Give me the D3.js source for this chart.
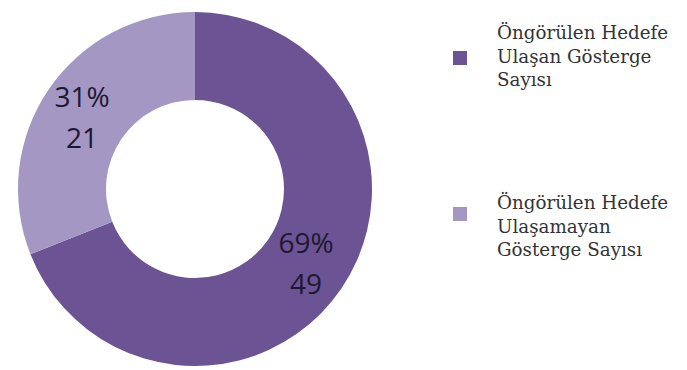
<!DOCTYPE html>
<html>
<head>
<meta charset="utf-8">
<script src="https://cdn.jsdelivr.net/npm/d3@7"></script>
<style>
	body { margin: 0; background: #fff; }
</style>
</head>
<body>
<div class="canvas"></div>
<script>
// podaci
const categories = ['Öngörülen Hedefe Ulaşan Gösterge Sayısı', 'Öngörülen Hedefe Ulaşamayan Gösterge Sayısı'];
const percents = [69, 31];
const counts = [49, 21];
const legendLines = [
	['Öngörülen Hedefe', 'Ulaşan Gösterge', 'Sayısı'],
	['Öngörülen Hedefe', 'Ulaşamayan', 'Gösterge Sayısı']
];

const data = categories.map((c, i) => ({ name: c, value: percents[i], count: counts[i] }));

const svg = d3
	.select('.canvas')
	.append('svg')
	.attr('width', 687)
	.attr('height', 370);

const colour = d3.scaleOrdinal()
	.domain(categories)
	.range(['#6b5394', '#a497c4']);

const cx = 195, cy = 189;
const outerR = 177, innerR = 89;

const pie = d3.pie().sort(null).value(d => d.value);
const arc = d3.arc().innerRadius(innerR).outerRadius(outerR);

const diagram = svg.append('g')
	.attr('transform', `translate(${cx}, ${cy})`);

diagram.selectAll('path')
	.data(pie(data))
	.enter()
	.append('path')
	.attr('d', arc)
	.attr('fill', d => colour(d.data.name));

// labele na kriskama (pomak od centroida)
const labelOffsets = [[1, -3], [-3, 1]];

const labels = diagram.selectAll('g.lbl')
	.data(pie(data))
	.enter()
	.append('g')
	.attr('class', 'lbl')
	.attr('transform', (d, i) => {
		const c = arc.centroid(d);
		return `translate(${c[0] + labelOffsets[i][0]}, ${c[1] + labelOffsets[i][1]})`;
	})
	.style('font-family', '"Open Sans", sans-serif')
	.style('font-size', '28px')
	.attr('fill', '#1e1830')
	.attr('text-anchor', 'middle');

labels.append('text')
	.attr('y', -8)
	.text(d => d.data.value + '%');
labels.append('text')
	.attr('y', 33)
	.text(d => d.data.count);

// legenda
const legend = svg.append('g')
	.attr('transform', 'translate(453, 0)');

const squareY = d3.scalePoint()
	.domain(categories)
	.range([58, 214]);
const textY = d3.scalePoint()
	.domain(categories)
	.range([39, 209]);

legend.selectAll('rect')
	.data(data)
	.enter()
	.append('rect')
	.attr('x', 0)
	.attr('y', d => squareY(d.name) - 7)
	.attr('width', 14)
	.attr('height', 14)
	.attr('fill', d => colour(d.name));

legend.selectAll('text')
	.data(data)
	.enter()
	.append('text')
	.attr('x', 44)
	.attr('y', d => textY(d.name))
	.attr('fill', '#333')
	.style('font-family', '"DejaVu Serif", serif')
	.style('font-size', '18.3px')
	.each(function (d, i) {
		legendLines[i].forEach((line, j) => {
			d3.select(this).append('tspan')
				.attr('x', 44)
				.attr('dy', j === 0 ? 0 : 23.5)
				.text(line);
		});
	});
</script>
</body>
</html>
